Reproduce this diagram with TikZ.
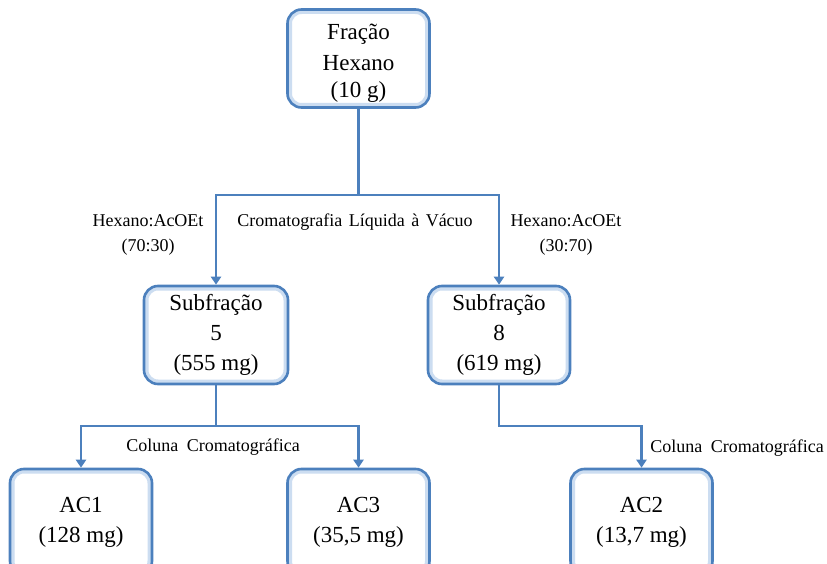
\documentclass[tikz,border=0pt]{standalone}
\usepackage{fontspec}
\setmainfont{Liberation Serif}
\usetikzlibrary{arrows.meta}
\definecolor{edgeblue}{RGB}{76,128,189}
\definecolor{glowblue}{RGB}{204,221,241}
\tikzset{
  stage/.style={draw=edgeblue, line width=2.6pt, fill=white, rounded corners=14pt,
    minimum width=142pt, minimum height=98pt, inner sep=0pt, align=center,
    font=\fontsize{23}{30}\selectfont,
    path picture={\draw[glowblue, line width=9pt, rounded corners=14pt]
      (path picture bounding box.south west) rectangle (path picture bounding box.north east);}},
  flow/.style={draw=edgeblue, line width=2.4pt, -{Triangle[width=10pt,length=8pt]}},
  note/.style={align=center, inner sep=0pt, font=\fontsize{18}{25}\selectfont}
}
\begin{document}
\begin{tikzpicture}[x=1pt,y=-1pt]
  \useasboundingbox (0,0) rectangle (827,564);
  \clip (0,0) rectangle (827,564);

  % stages of the fractionation
  \node[stage] (hex)  at (358.5,58.5) {\rule{0pt}{24pt}Fração\\[1pt]Hexano\\[-3pt](10 g)};
  \node[stage, minimum width=144pt] (sub5) at (216,335) {Subfração\\5\\(555 mg)};
  \node[stage] (sub8) at (499,335) {Subfração\\8\\(619 mg)};
  \node[stage, minimum height=106pt] (ac1) at (81,522)    {AC1\\(128 mg)};
  \node[stage, minimum height=106pt] (ac3) at (358.5,522) {AC3\\(35,5 mg)};
  \node[stage, minimum height=106pt] (ac2) at (641.5,522) {AC2\\(13,7 mg)};

  % heights of the horizontal branches
  \coordinate (lvlA) at (0,195);
  \coordinate (lvlB) at (0,426);

  % vacuum liquid chromatography
  \draw[flow] (hex.south) -- (hex.south |- lvlA) -| (sub5.north);
  \draw[flow] (hex.south |- lvlA) -| (sub8.north);

  % column chromatography
  \draw[flow] (sub5.south) -- (sub5.south |- lvlB) -| (ac1.north);
  \draw[flow] (sub5.south |- lvlB) -| (ac3.north);
  \draw[flow] (sub8.south) -- (sub8.south |- lvlB) -| (ac2.north);

  % labels
  \node[note] (elA) at (148,235) {Hexano:AcOEt\\(70:30)};
  \node[note] (vlc) at (355,222) {Cromatografia\hspace{2pt} Líquida\hspace{2pt} à\hspace{2pt} Vácuo};
  \node[note] (elB) at (566,235) {Hexano:AcOEt\\(30:70)};
  \node[note] (ccA) at (213,447) {Coluna\hspace{4pt} Cromatográfica};
  \node[note] (ccB) at (737,448) {Coluna\hspace{4pt} Cromatográfica};
\end{tikzpicture}
\end{document}
